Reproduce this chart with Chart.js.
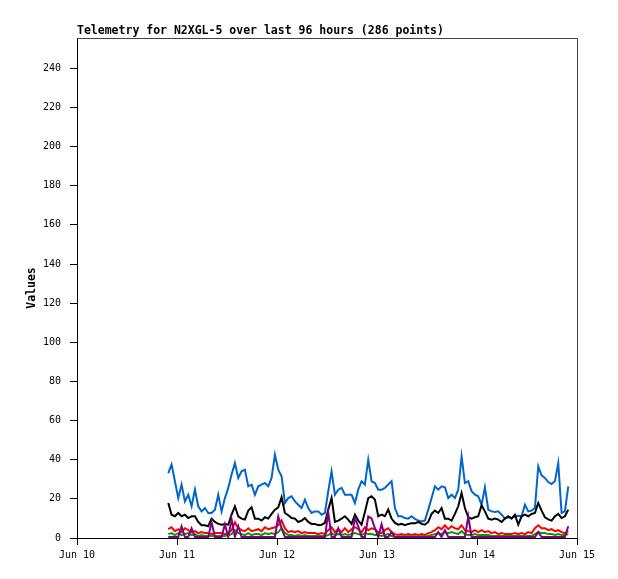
<!DOCTYPE html>
<html>
<head>
<meta charset="utf-8">
<title>Telemetry for N2XGL-5</title>
<script src="https://cdn.jsdelivr.net/npm/chart.js@4.4.1/dist/chart.umd.min.js"></script>
<style>
  html, body { margin: 0; padding: 0; background: #fff; }
  canvas { display: block; }
</style>
</head>
<body>
<canvas id="telemetryChart" width="618" height="579"></canvas>
<script>
"use strict";

/* ── Data (hours since Jun 10 00:00, one sample every 0.8 h) ───────────── */
const TITLE      = "Telemetry for N2XGL-5 over last 96 hours (286 points)";
const DAY_LABELS = ["Jun 10", "Jun 11", "Jun 12", "Jun 13", "Jun 14", "Jun 15"];
const START_HOUR = 21.9;
const STEP_HOURS = 0.8;

const blueValues = [
  33.2, 37.5, 29.0, 20.4, 27.3, 18.7, 22.1, 16.2, 24.7, 16.2,
  13.6, 15.3, 12.8, 12.8, 14.5, 22.1, 13.6, 20.4, 25.6, 32.4,
  38.3, 30.7, 34.1, 34.9, 26.4, 27.3, 22.1, 26.4, 27.3, 28.1,
  26.4, 30.7, 42.6, 34.9, 31.5, 17.9, 20.4, 21.3, 18.7, 17.0,
  15.3, 19.6, 15.3, 12.8, 13.6, 13.6, 11.9, 12.8, 23.9, 34.1,
  22.1, 24.7, 25.6, 22.1, 22.1, 22.1, 17.9, 24.7, 29.0, 27.3,
  40.0, 29.0, 28.1, 24.7, 24.7, 25.6, 27.3, 29.0, 15.3, 11.1,
  11.1, 10.2,  9.9, 11.1,  9.7,  8.9,  8.5,  8.9, 14.5, 20.4,
  26.4, 24.7, 26.4, 25.9, 20.4, 22.1, 20.4, 24.7, 41.7, 28.1,
  29.0, 23.9, 22.1, 21.3, 17.0, 25.9, 14.5, 13.6, 13.3, 13.6,
  11.9,  9.9, 10.6, 10.2, 11.1, 11.4, 11.1, 17.0, 13.6, 14.0,
  15.3, 36.6, 32.0, 30.7, 28.6, 27.6, 29.0, 38.3, 12.8, 13.6,
  26.4
];
const blackValues = [
  17.9, 11.9, 11.1, 12.8, 11.1, 11.9, 10.2, 11.1, 11.1,  8.2,
   6.5,  6.5,  6.0,  9.9,  8.2,  7.2,  6.8,  7.2,  6.8, 11.9,
  16.2, 11.1,  9.9,  9.4, 14.0, 15.7,  9.9,  9.9,  8.9, 10.6,
   9.9, 12.3, 14.5, 15.7, 20.8, 12.8, 11.6, 10.2,  9.9,  8.2,
   8.9, 10.2,  8.2,  7.2,  7.2,  6.5,  6.8,  7.7, 14.5, 20.4,
   8.2,  8.9,  9.9, 11.1,  9.4,  7.2, 11.9,  8.9,  6.8, 13.3,
  20.4, 21.3, 19.6, 11.1, 11.9, 11.1, 14.5,  9.9,  7.7,  6.8,
   7.2,  6.5,  7.2,  7.5,  7.5,  8.2,  7.2,  6.8,  8.2, 12.3,
  14.0, 12.8, 15.3,  9.9,  9.9,  8.9, 12.3, 16.2, 23.0, 15.3,
  10.6,  9.9, 10.6, 11.1, 16.7, 13.6,  9.9,  9.4,  9.9,  9.4,
   8.2,  9.9, 11.1,  9.9, 11.9,  6.8, 11.1, 11.9, 11.1, 12.3,
  12.8, 17.9, 14.0, 10.6,  9.5,  8.9, 11.1, 12.3, 10.2, 11.1,
  14.5
];
const redValues = [
  4.5, 5.5, 3.5, 4.5, 3.0, 5.0, 4.0, 3.0, 3.5, 2.5,
  3.0, 2.5, 2.5, 2.0, 2.5, 2.5, 2.5, 2.0, 2.5, 4.0,
  8.0, 5.0, 4.0, 3.5, 5.0, 3.5, 4.0, 4.5, 3.5, 5.5,
  4.5, 5.0, 5.5, 6.5, 9.0, 5.0, 3.0, 3.5, 3.0, 3.5,
  2.5, 3.0, 2.5, 2.5, 2.5, 2.0, 2.5, 2.0, 4.0, 5.5,
  3.0, 4.5, 3.0, 5.0, 3.0, 4.5, 5.5, 4.5, 3.0, 5.5,
  4.0, 5.0, 4.5, 3.0, 2.5, 4.0, 5.0, 3.0, 2.0, 1.5,
  2.0, 1.5, 2.0, 1.5, 2.0, 1.5, 2.0, 1.5, 2.5, 3.0,
  4.0, 5.5, 4.5, 6.5, 4.5, 6.0, 5.0, 4.5, 6.5, 4.0,
  3.5, 3.0, 4.0, 3.0, 4.0, 3.0, 3.5, 2.5, 3.0, 2.0,
  2.5, 2.0, 2.0, 2.0, 2.5, 2.0, 2.5, 2.0, 3.0, 2.5,
  5.0, 6.5, 5.0, 5.0, 4.0, 4.5, 3.5, 4.0, 3.0, 2.5,
  3.5
];
const greenValues = [
  2.0, 2.5, 1.5, 2.5, 1.5, 2.0, 2.5, 1.5, 2.0, 1.0,
  1.5, 1.0, 1.0, 1.0, 1.0, 1.0, 1.0, 1.0, 1.5, 2.0,
  4.0, 2.5, 2.0, 1.5, 2.5, 1.5, 2.0, 2.0, 1.5, 2.5,
  2.0, 2.5, 2.0, 3.0, 5.0, 2.5, 1.5, 1.5, 1.0, 1.5,
  1.0, 1.5, 1.0, 1.0, 1.0, 1.0, 1.0, 1.0, 1.5, 2.5,
  1.5, 2.0, 1.5, 2.0, 1.5, 2.0, 2.5, 2.0, 1.5, 2.5,
  2.0, 2.0, 1.5, 1.5, 1.0, 1.5, 2.0, 1.0, 0.5, 0.5,
  1.0, 0.5, 1.0, 0.5, 1.0, 0.5, 1.0, 0.5, 1.0, 1.5,
  2.0, 2.5, 2.0, 3.0, 2.5, 3.0, 2.5, 2.0, 3.5, 2.0,
  1.5, 1.5, 2.0, 1.5, 1.5, 1.5, 1.5, 1.0, 1.0, 1.0,
  1.0, 1.0, 1.0, 1.0, 1.0, 1.0, 1.0, 1.0, 1.0, 1.0,
  2.0, 3.0, 2.5, 2.5, 2.0, 2.0, 1.5, 2.0, 1.5, 1.5,
  2.0
];
const purpleValues = [
  0.5, 0.5, 0.5, 0.5, 6.0, 0.5, 0.5, 5.0, 0.5, 0.5,
  0.5, 0.5, 0.5, 8.0, 0.5, 0.5, 0.5, 7.0, 0.5, 9.5,
  0.5, 6.0, 0.5, 0.5, 0.5, 0.5, 0.5, 0.5, 0.5, 0.5,
  0.5, 0.5, 0.5, 11.0, 5.0, 0.5, 0.5, 0.5, 0.5, 0.5,
  0.5, 0.5, 0.5, 0.5, 0.5, 0.5, 0.5, 0.5, 13.0, 0.5,
  0.5, 5.0, 0.5, 0.5, 0.5, 0.5, 10.0, 6.0, 0.5, 0.5,
  11.0, 10.0, 5.0, 0.5, 7.0, 0.5, 0.5, 3.0, 0.5, 0.5,
  0.5, 0.5, 0.5, 0.5, 0.5, 0.5, 0.5, 0.5, 0.5, 0.5,
  0.5, 3.0, 0.5, 4.0, 0.5, 0.5, 0.5, 0.5, 0.5, 0.5,
  11.0, 0.5, 0.5, 0.5, 0.5, 0.5, 0.5, 0.5, 0.5, 0.5,
  0.5, 0.5, 0.5, 0.5, 0.5, 0.5, 0.5, 0.5, 0.5, 0.5,
  0.5, 3.0, 0.5, 0.5, 0.5, 0.5, 0.5, 0.5, 0.5, 0.5,
  6.0
];

/* ── Helpers ────────────────────────────────────────────────────────────── */
const MONO = "'DejaVu Sans Mono', 'Liberation Mono', monospace";

function toPoints(values) {
  return values.map((v, i) => ({ x: START_HOUR + i * STEP_HOURS, y: v }));
}

function series(label, values, color) {
  return {
    label, data: toPoints(values),
    borderColor: color, backgroundColor: color,
    borderWidth: 2, pointRadius: 0, tension: 0, fill: false,
  };
}

/* frame (grey top/right edges) + left-aligned title */
const framePlugin = {
  id: "frame",
  beforeDatasetsDraw(chart) {
    const { ctx, chartArea: a } = chart;
    ctx.save();
    ctx.strokeStyle = "#444";
    ctx.lineWidth = 1;
    ctx.beginPath();
    ctx.moveTo(a.left, a.top + 0.5);
    ctx.lineTo(a.right + 0.5, a.top + 0.5);
    ctx.lineTo(a.right + 0.5, a.bottom);
    ctx.stroke();
    ctx.restore();
  },
  afterDraw(chart) {
    const { ctx, chartArea: a } = chart;
    ctx.save();
    ctx.font = "bold 11.5px " + MONO;
    ctx.fillStyle = "#000";
    ctx.textAlign = "left";
    ctx.textBaseline = "alphabetic";
    ctx.fillText(TITLE, a.left, a.top - 4);
    ctx.restore();
  },
};

/* ── Chart ──────────────────────────────────────────────────────────────── */
new Chart(document.getElementById("telemetryChart"), {
  type: "line",
  data: {
    datasets: [
      series("Purple", purpleValues, "#800080"),
      series("Green",  greenValues,  "#00a000"),
      series("Red",    redValues,    "#ff0000"),
      series("Black",  blackValues,  "#000000"),
      series("Blue",   blueValues,   "#0066cc"),
    ],
  },
  options: {
    responsive: false,
    animation: false,
    events: [],
    layout: { padding: { left: 0, right: 41, top: 38, bottom: 0 } },
    plugins: {
      legend: { display: false },
      title: { display: false },
      tooltip: { enabled: false },
    },
    scales: {
      x: {
        type: "linear", min: 0, max: 120,
        border: { color: "#000", width: 1 },
        grid: { drawOnChartArea: false, drawTicks: true, tickLength: 7, color: "#000" },
        ticks: {
          stepSize: 24, autoSkip: false, maxRotation: 0, padding: 4,
          color: "#000", font: { family: MONO, size: 10 },
          callback: (v) => DAY_LABELS[Math.round(v / 24)],
        },
        afterFit: (s) => { s.height = 41; },
      },
      y: {
        type: "linear", min: 0, max: 255.5,
        border: { color: "#000", width: 1 },
        grid: { drawOnChartArea: false, drawTicks: true, tickLength: 7, color: "#000" },
        ticks: {
          stepSize: 20, includeBounds: false, padding: 9,
          color: "#000", font: { family: MONO, size: 10 },
        },
        title: {
          display: true, text: "Values", color: "#000",
          font: { family: MONO, size: 11.5, weight: "bold" },
          padding: { top: 25, bottom: 0 },
        },
        afterFit: (s) => { s.width = 77; },
      },
    },
  },
  plugins: [framePlugin],
});
</script>
</body>
</html>
